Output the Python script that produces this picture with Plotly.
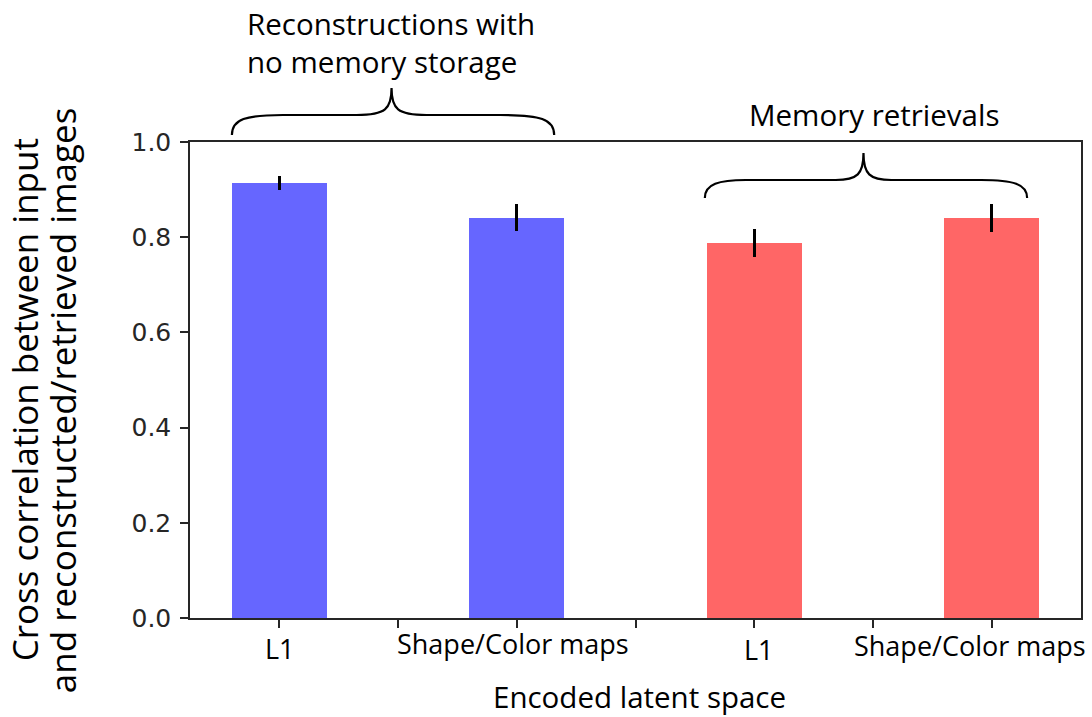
import plotly.graph_objects as go

# ---- data ----
categories = ["L1", "Shape/Color maps", "L1", "Shape/Color maps"]
groups = ["Reconstructions with<br>no memory storage", "Memory retrievals"]
values = [0.914, 0.841, 0.788, 0.840]
errors = [0.015, 0.029, 0.030, 0.030]
bar_colors = ["#6666ff", "#6666ff", "#ff6666", "#ff6666"]
y_ticks = [0.0, 0.2, 0.4, 0.6, 0.8, 1.0]
y_title_lines = ["Cross correlation between input", "and reconstructed/retrieved images"]
x_title = "Encoded latent space"

# ---- layout geometry (pixels) ----
W, H = 1092, 717
L, R, T, B = 190, 1083, 142, 618
PW, PH = R - L, B - T

def px(x):
    return (x - L) / PW

def py(y):
    return (B - y) / PH

xpos = [2 * i for i in range(len(values))]

fig = go.Figure()
fig.add_trace(go.Bar(
    x=xpos, y=values, width=0.8,
    marker=dict(color=bar_colors, line=dict(width=0)),
    error_y=dict(type="data", array=errors, visible=True, color="black", thickness=3, width=0),
    showlegend=False,
))

label_font = dict(family="Open Sans", size=27, color="black")
big_font = dict(family="Open Sans", size=29.5, color="black")

annotations = []
label_shift = [1, -4, 5, -22]
label_y = [648, 643, 649, 645]
for xp, cat, sh, ly in zip(xpos, categories, label_shift, label_y):
    annotations.append(dict(x=xp, xref="x", y=py(ly), yref="paper", text=cat, showarrow=False,
                            xanchor="center", yanchor="middle", xshift=sh, font=label_font))

annotations.append(dict(x=px(641), xref="paper", y=py(696), yref="paper", text=x_title,
                        showarrow=False, xanchor="center", yanchor="middle", font=big_font))
annotations.append(dict(x=px(245), xref="paper", y=py(42), yref="paper", text=groups[0],
                        showarrow=False, xanchor="left", yanchor="middle", align="left", font=big_font))
annotations.append(dict(x=px(876), xref="paper", y=py(115), yref="paper", text=groups[1],
                        showarrow=False, xanchor="center", yanchor="middle", font=big_font))
ytitle_font = dict(family="Open Sans", size=35, color="black")
for line, cx in zip(y_title_lines, [24, 62]):
    annotations.append(dict(x=px(cx), xref="paper", y=py(400), yref="paper", text=line,
                            showarrow=False, textangle=-90, xanchor="center", yanchor="middle",
                            font=ytitle_font))

def brace(x0, x1, xa, xb, xc, yend, ymid, ytip):
    d = "M {},{} ".format(px(x0), py(yend))
    d += "C {},{} {},{} {},{} ".format(px(x0), py(ymid + 4), px(x0 + 14), py(ymid), px(xa), py(ymid))
    d += "L {},{} ".format(px(xb), py(ymid))
    d += "C {},{} {},{} {},{} ".format(px(xc - 6), py(ymid), px(xc), py(ymid - 6), px(xc), py(ytip))
    d += "C {},{} {},{} {},{} ".format(px(xc), py(ymid - 6), px(xc + 6), py(ymid), px(2 * xc - xb), py(ymid))
    d += "L {},{} ".format(px(2 * xc - xa), py(ymid))
    d += "C {},{} {},{} {},{}".format(px(x1 - 14), py(ymid), px(x1), py(ymid + 4), px(x1), py(yend))
    return dict(type="path", path=d, xref="paper", yref="paper",
                line=dict(color="black", width=2.2), fillcolor="rgba(0,0,0,0)", layer="above")

shapes = [
    brace(232, 555, 283, 357, 392, 135, 115, 88),
    brace(706, 1029, 747, 837, 865, 198, 180, 153),
]

axis_common = dict(showline=True, linecolor="#262626", linewidth=1.5, mirror=True,
                   ticks="outside", ticklen=8, tickwidth=1.5, tickcolor="#262626",
                   showgrid=False, zeroline=False)

fig.update_layout(
    width=W, height=H,
    margin=dict(l=L, r=W - R, t=T, b=H - B, pad=0),
    paper_bgcolor="white", plot_bgcolor="white",
    xaxis=dict(range=[-0.75, 6.75], tickvals=list(range(7)), showticklabels=False, **axis_common),
    yaxis=dict(range=[0, 1.0], tickvals=y_ticks, tickformat=".1f",
               tickfont=dict(family="DejaVu Sans", size=25, color="#262626"),
               ticklabelstandoff=4, **axis_common),
    annotations=annotations,
    shapes=shapes,
    bargap=0,
)

fig.write_html("out.html", config={"displayModeBar": False},
               post_script="document.body.style.margin='0px';document.body.style.padding='0px';")
